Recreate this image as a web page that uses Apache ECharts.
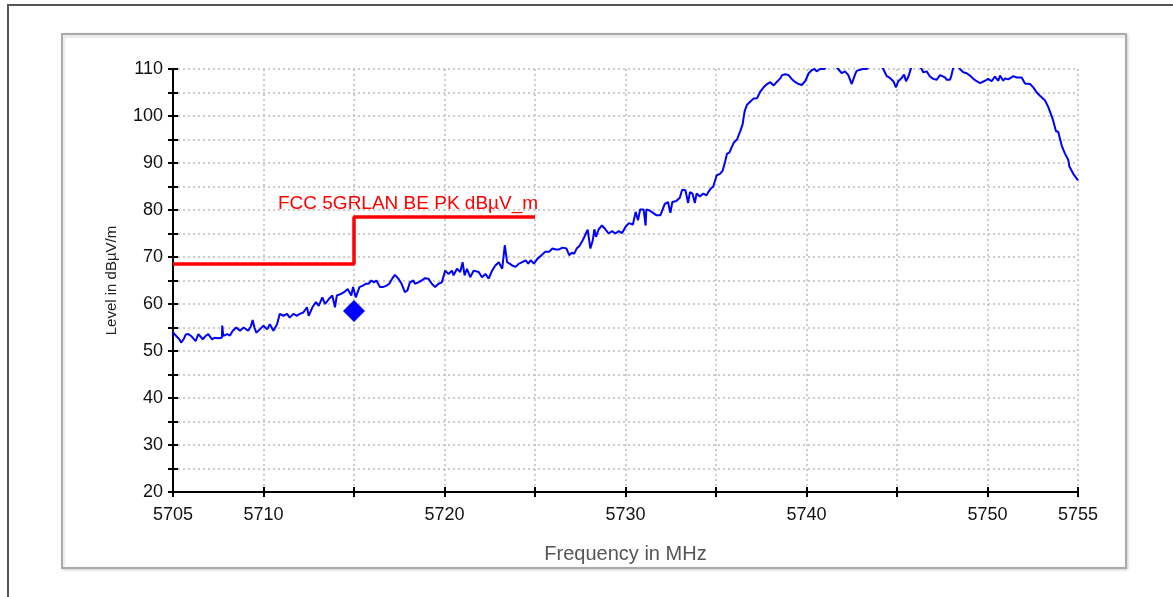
<!DOCTYPE html>
<html>
<head>
<meta charset="utf-8">
<script src="https://cdn.jsdelivr.net/npm/echarts@6/dist/echarts.min.js"></script>
<style>
  html, body { margin: 0; padding: 0; background: #fff; }
  #chart { width: 1173px; height: 597px; }
</style>
</head>
<body>
<div id="chart"></div>
<script>
// measured trace: [frequency MHz, level dBuV/m]; values above 110 are clipped by the axis
const trace = [
  [5705.0,54.0],[5705.1,53.5],[5705.2,53.8],[5705.35,52.5],[5705.45,51.8],[5705.6,52.6],[5705.7,53.5],[5705.85,53.6],
  [5706.0,53.2],[5706.1,53.0],[5706.25,52.1],[5706.4,53.6],[5706.5,53.3],[5706.65,52.5],[5706.8,53.2],[5706.95,53.6],
  [5707.15,52.5],[5707.3,52.8],[5707.5,52.7],[5707.7,52.8],[5707.72,55.4],[5707.78,53.2],[5708.0,53.6],[5708.15,53.3],
  [5708.3,54.3],[5708.5,55.0],[5708.7,54.3],[5708.9,55.0],[5709.15,54.3],[5709.3,55.2],[5709.4,56.6],[5709.5,55.0],
  [5709.6,53.9],[5709.8,54.6],[5710.0,55.4],[5710.2,54.6],[5710.35,55.7],[5710.55,54.3],[5710.75,55.7],[5710.9,57.9],
  [5711.1,57.5],[5711.3,57.9],[5711.45,57.1],[5711.65,57.9],[5711.85,57.5],[5712.0,57.9],[5712.2,58.2],[5712.4,59.3],
  [5712.5,57.5],[5712.7,59.3],[5712.9,60.4],[5713.05,59.6],[5713.25,61.4],[5713.4,60.0],[5713.6,61.0],[5713.8,61.8],
  [5713.95,59.3],[5714.05,61.8],[5714.25,62.1],[5714.45,62.5],[5714.65,63.2],[5714.85,61.8],[5714.95,63.6],[5715.1,61.4],
  [5715.3,63.6],[5715.5,63.9],[5715.65,64.3],
  [5715.8,64.3],[5715.96,65.0],[5716.1,64.6],[5716.24,65.0],[5716.43,63.6],[5716.6,63.6],[5716.8,63.9],[5716.95,64.3],
  [5717.11,65.4],[5717.26,66.2],[5717.45,65.4],[5717.63,64.3],[5717.81,62.5],[5717.95,62.9],[5718.09,64.6],[5718.28,65.0],
  [5718.37,64.3],[5718.55,64.6],[5718.74,65.0],[5718.92,65.5],[5719.11,65.4],[5719.3,64.3],[5719.48,63.6],[5719.67,64.3],
  [5719.85,64.6],[5720.04,67.1],[5720.22,66.4],[5720.41,67.1],[5720.5,66.1],[5720.69,67.5],[5720.87,66.8],[5721.0,68.9],
  [5721.11,66.1],[5721.24,67.5],[5721.42,65.7],[5721.61,67.1],[5721.89,66.8],[5722.07,65.7],[5722.26,66.4],[5722.44,65.4],
  [5722.63,67.1],[5722.81,68.2],[5723.0,68.9],[5723.19,67.5],[5723.33,72.5],[5723.46,68.9],[5723.6,68.6],[5723.74,68.2],
  [5723.93,67.9],[5724.11,68.6],[5724.3,68.9],[5724.48,69.3],[5724.63,68.6],[5724.76,69.3],[5724.94,68.6],[5725.13,69.6],
  [5725.37,70.4],[5725.56,71.1],
  [5725.78,71.1],[5725.96,71.8],[5726.15,71.6],[5726.33,71.6],[5726.52,72.0],[5726.61,72.3],[5726.74,71.8],[5726.89,70.4],
  [5727.04,70.9],[5727.17,70.7],[5727.3,71.8],[5727.44,72.3],[5727.63,73.5],[5727.81,75.0],[5727.91,75.8],[5728.06,71.8],
  [5728.19,73.5],[5728.28,75.9],[5728.37,74.3],[5728.52,75.9],[5728.7,76.7],[5728.89,75.9],[5729.07,75.0],[5729.26,75.5],
  [5729.44,75.0],[5729.63,75.5],[5729.81,75.1],[5730.0,76.4],[5730.19,77.2],[5730.41,76.9],[5730.56,79.6],[5730.69,77.8],
  [5730.81,80.1],[5731.0,80.1],[5731.11,76.7],[5731.15,80.1],[5731.33,79.9],[5731.52,79.4],[5731.7,78.9],[5731.93,78.9],
  [5732.17,81.3],[5732.35,81.7],[5732.48,79.4],[5732.59,81.7],[5732.81,81.9],[5733.0,82.6],[5733.13,84.3],[5733.31,84.2],
  [5733.46,81.5],[5733.56,83.8],[5733.7,83.5],[5733.83,81.5],[5733.93,83.5],[5734.11,82.9],[5734.3,83.5],[5734.48,83.1],
  [5734.57,83.8],[5734.7,84.5],[5734.85,85.0],[5735.04,87.4],[5735.22,87.7],[5735.37,88.4],[5735.5,90.2],
  [5735.61,92.0],[5735.74,92.2],[5735.85,93.2],[5735.98,94.3],[5736.16,95.0],[5736.34,96.8],[5736.47,98.2],[5736.58,101.0],
  [5736.71,102.4],[5736.9,103.1],[5737.08,103.7],[5737.27,103.8],[5737.45,105.2],[5737.63,106.1],[5737.82,106.8],[5738.0,107.2],
  [5738.19,106.5],[5738.37,107.3],[5738.55,108.0],[5738.65,108.7],[5738.83,108.9],[5739.01,108.7],[5739.2,107.8],[5739.38,107.2],
  [5739.57,106.8],[5739.75,106.6],[5739.94,107.5],[5740.12,109.1],[5740.3,109.8],[5740.45,110.0],[5740.56,109.5],[5740.75,110.0],
  [5741.0,110.0],[5741.15,111.0],[5741.35,111.5],[5741.55,110.8],[5741.75,110.0],[5741.94,109.1],[5742.13,109.5],[5742.31,108.7],
  [5742.5,106.8],[5742.68,108.8],[5742.77,109.6],[5742.86,110.0],[5743.1,110.0],[5743.33,110.0],[5743.6,111.2],[5743.9,111.5],
  [5744.1,110.8],[5744.24,110.0],[5744.43,108.5],[5744.61,108.1],[5744.8,107.4],[5744.94,106.1],[5745.07,107.4],[5745.26,108.1],
  [5745.39,108.8],[5745.5,107.4],[5745.62,108.3],[5745.72,109.5],[5745.8,110.5],[5746.0,111.3],[5746.2,110.8],[5746.36,110.0],
  [5746.45,109.3],[5746.64,109.5],[5746.82,108.4],[5747.0,107.9],[5747.19,107.7],[5747.38,108.7],[5747.47,108.9],[5747.65,108.2],
  [5747.75,107.7],[5747.93,107.7],[5748.02,108.8],[5748.08,109.9],[5748.2,110.8],[5748.35,110.6],[5748.48,110.0],[5748.66,109.3],
  [5748.85,109.1],[5749.03,108.6],[5749.22,107.9],[5749.4,107.4],[5749.59,107.0],[5749.68,106.6],[5749.86,107.5],[5750.04,107.9],
  [5750.23,107.4],[5750.41,108.4],[5750.6,107.5],[5750.69,108.6],[5750.87,107.5],[5750.97,108.0],[5751.15,107.8],[5751.43,108.5],
  [5751.61,108.2],[5751.89,108.2],[5752.07,106.9],[5752.35,106.8],[5752.53,106.1],[5752.72,105.0],[5752.9,104.3],[5753.18,103.3],
  [5753.36,101.9],[5753.45,101.5],[5753.6,99.4],[5753.78,96.8],[5753.91,96.6],[5754.1,93.7],[5754.28,92.0],[5754.46,90.7],
  [5754.52,89.3],[5754.74,87.7],[5755.0,86.3]
];

// limit line (step)
const limitFreq = [5705, 5715, 5715, 5725];
const limitLevel = [68.5, 68.5, 78.5, 78.5];
const limitName = 'FCC 5GRLAN BE PK dBµV_m';

// final measurement marker
const markerPoint = [[5715, 58.5]];

const xLabels = [5705, 5710, 5720, 5730, 5740, 5750, 5755];

const font = "'Liberation Sans', Arial, sans-serif";
const chart = echarts.init(document.getElementById('chart'), null, { renderer: 'canvas' });

const dotted = { color: '#bdbdbd', width: 1.5, type: [2, 3] };

chart.setOption({
  animation: false,
  backgroundColor: '#ffffff',
  graphic: [
    { type: 'rect', shape: { x: 8, y: 5, width: 1200, height: 700 }, style: { fill: 'none', stroke: '#555', lineWidth: 2 }, z: -10 },
    { type: 'rect', shape: { x: 62, y: 34, width: 1064, height: 534 },
      style: { fill: '#fff', stroke: '#aaaaaa', lineWidth: 2, shadowColor: 'rgba(0,0,0,0.15)', shadowBlur: 3, shadowOffsetX: 1, shadowOffsetY: 1 }, z: -9 },
    { type: 'polyline', shape: { points: [[64, 566], [64, 37], [1124, 37]] }, style: { stroke: '#ececec', lineWidth: 2, fill: 'none' }, z: -8 }
  ],
  grid: { left: 173, right: 95, top: 69, bottom: 105 },
  xAxis: [{
    type: 'value', min: 5705, max: 5755, interval: 5,
    name: 'Frequency in MHz', nameLocation: 'middle', nameGap: 52,
    nameTextStyle: { fontFamily: font, fontSize: 20, color: '#555' },
    axisLine: { lineStyle: { color: '#000', width: 2 } },
    axisTick: { length: 5, lineStyle: { color: '#000', width: 2 } },
    axisLabel: {
      margin: 14, fontFamily: font, fontSize: 18, color: '#111',
      formatter: v => xLabels.indexOf(v) >= 0 ? String(v) : ''
    },
    splitLine: { show: true, lineStyle: dotted }
  }, {
    type: 'value', min: 5705, max: 5755, interval: 5, position: 'bottom',
    axisLine: { show: false },
    axisTick: { inside: true, length: 5, lineStyle: { color: '#000', width: 2 } },
    axisLabel: { show: false }, splitLine: { show: false }
  }],
  yAxis: [{
    type: 'value', min: 20, max: 110, interval: 5,
    name: 'Level in dBµV/m', nameLocation: 'middle', nameGap: 54,
    nameTextStyle: { fontFamily: font, fontSize: 15, color: '#222' },
    axisLine: { show: true, lineStyle: { color: '#000', width: 2 } },
    axisTick: { show: true, length: 5, lineStyle: { color: '#000', width: 2 } },
    axisLabel: {
      margin: 10, fontFamily: font, fontSize: 18, color: '#111',
      formatter: v => v % 10 === 0 ? String(v) : ''
    },
    splitLine: { show: true, lineStyle: dotted }
  }, {
    type: 'value', min: 20, max: 110, interval: 5, position: 'left',
    axisLine: { show: false },
    axisTick: { show: true, inside: true, length: 5, lineStyle: { color: '#000', width: 2 } },
    axisLabel: { show: false }, splitLine: { show: false }
  }],
  series: [
    {
      name: 'Level', type: 'line', data: trace, showSymbol: false, clip: true,
      lineStyle: { color: '#0000ff', width: 2 }, z: 3
    },
    {
      name: limitName, type: 'line', data: limitFreq.map((f, i) => [f, limitLevel[i]]),
      showSymbol: false, lineStyle: { color: '#ff0000', width: 3.5 }, z: 4
    },
    {
      name: 'Final', type: 'scatter', data: markerPoint, symbol: 'diamond', symbolSize: [22, 22],
      itemStyle: { color: '#0000ff', opacity: 1 }, z: 5
    }
  ]
});

// limit line caption
const p = chart.convertToPixel({ gridIndex: 0 }, [5710.8, 79.4]);
chart.setOption({
  graphic: [
    {}, {}, {},
    { type: 'text', x: p[0], y: p[1], z: 10,
      style: { text: limitName, fill: '#ff0000', font: '19px ' + font, textVerticalAlign: 'bottom', textAlign: 'left' } }
  ]
});
</script>
</body>
</html>
